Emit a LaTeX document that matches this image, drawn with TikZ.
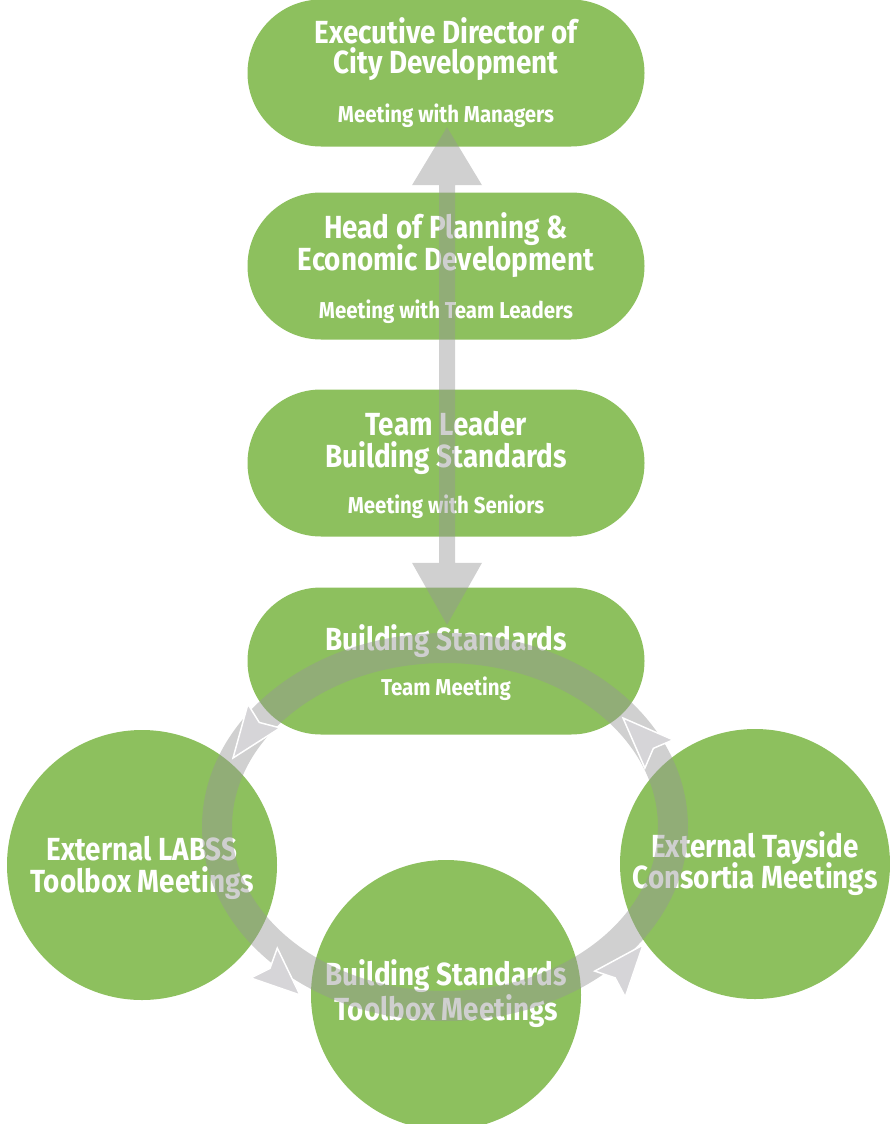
\documentclass[tikz,border=0pt]{standalone}
\usepackage{fontspec}
\setmainfont{Fira Sans}
\newfontfamily\ttlfont{Fira Sans}[FakeStretch=0.87]
\newfontfamily\subfont{Fira Sans}[FakeStretch=0.89]
\usetikzlibrary{calc}
\definecolor{leaf}{RGB}{141,192,94}
\definecolor{bandgrey}{RGB}{150,150,150}
\definecolor{headgrey}{RGB}{214,213,216}
\begin{document}
\begin{tikzpicture}[x=1pt,y=-1pt,
  pill/.style={fill=leaf, rounded corners=73.5pt, minimum width=397pt, minimum height=147pt, inner sep=0pt, draw=none},
  disc/.style={circle, fill=leaf, minimum size=270pt, inner sep=0pt},
  ttl/.style={text=white, font=\ttlfont\fontsize{32}{33}\selectfont\bfseries, inner sep=0pt, anchor=base},
  subttl/.style={text=white, font=\subfont\fontsize{23}{25}\selectfont\bfseries, inner sep=0pt, anchor=base},
  ringband/.style={draw=bandgrey, draw opacity=0.45, line width=30pt},
  vbar/.style={fill=bandgrey, fill opacity=0.45},
  chev/.style={fill=headgrey, draw=white, line width=1.5pt, line join=miter}]
\useasboundingbox (0,0) rectangle (890,1124);

% boxes
\node[pill] (exec) at (446,73) {};
\node[pill] (head) at (446,266) {};
\node[pill] (lead) at (446,463) {};
\node[pill] (team) at (446,661) {};
% circles
\node[disc] (labss) at (142,865) {};
\node[disc] (tayside) at (755,864) {};
\node[disc] (toolbox) at (446,995) {};

% texts
\node[ttl] (exec1) at ($(exec)+(0,-29)$) {Executive Director of};
\node[ttl] (exec2) at ($(exec)+(0,1)$) {City Development};
\node[subttl] (exec3) at ($(exec)+(0,49)$) {Meeting with Managers};

\node[ttl] (head1) at ($(head)+(0,-28)$) {Head of Planning \&};
\node[ttl] (head2) at ($(head)+(0,4)$) {Economic Development};
\node[subttl] (head3) at ($(head)+(0,52)$) {Meeting with Team Leaders};

\node[ttl] (lead1) at ($(lead)+(0,-28)$) {Team Leader};
\node[ttl] (lead2) at ($(lead)+(0,4)$) {Building Standards};
\node[subttl] (lead3) at ($(lead)+(0,50)$) {Meeting with Seniors};

\node[ttl] (team1) at ($(team)+(0,-11)$) {Building Standards};
\node[subttl] (team2) at ($(team)+(0,34)$) {Team Meeting};

\node[ttl] (labss1) at ($(labss)+(0,-5)$) {External LABSS};
\node[ttl] (labss2) at ($(labss)+(0,27)$) {Toolbox Meetings};

\node[ttl] (tay1) at ($(tayside)+(0,-7)$) {External Tayside};
\node[ttl] (tay2) at ($(tayside)+(0,24)$) {Consortia Meetings};

\node[ttl] (tool1) at ($(toolbox)+(0,-10)$) {Building Standards};
\node[ttl] (tool2) at ($(toolbox)+(0,25)$) {Toolbox Meetings};

% vertical double arrow
\coordinate (up) at ($(exec.south)+(1,-19.5)$);
\coordinate (dn) at ($(team.north)+(1,37.5)$);
\fill[vbar] (up) -- ++(35,58) -- ++(-27,0) -- ($(dn)+(8,-62)$) -- ++(27,0) -- (dn)
  -- ++(-35,-62) -- ++(27,0) -- ($(up)+(-8,58)$) -- ++(-27,0) -- cycle;

% ring
\coordinate (ringc) at (445,827);
\draw[ringband] (ringc) ellipse [x radius=228, y radius=179];

% chevron arrowheads on the ring
\coordinate (t1) at (233,758); \coordinate (b1) at (264,716);
\coordinate (t2) at (300,995); \coordinate (b2) at (264,963);
\coordinate (t3) at (643,945); \coordinate (b3) at (610,984);
\coordinate (t4) at (623,718); \coordinate (b4) at (659,754);
\foreach \i in {1,2,3,4}{
  \filldraw[chev] (t\i) -- ($(b\i)!20pt!90:(t\i)$) -- ($(b\i)!8pt!(t\i)$) -- ($(b\i)!20pt!-90:(t\i)$) -- cycle;
}
\end{tikzpicture}
\end{document}
